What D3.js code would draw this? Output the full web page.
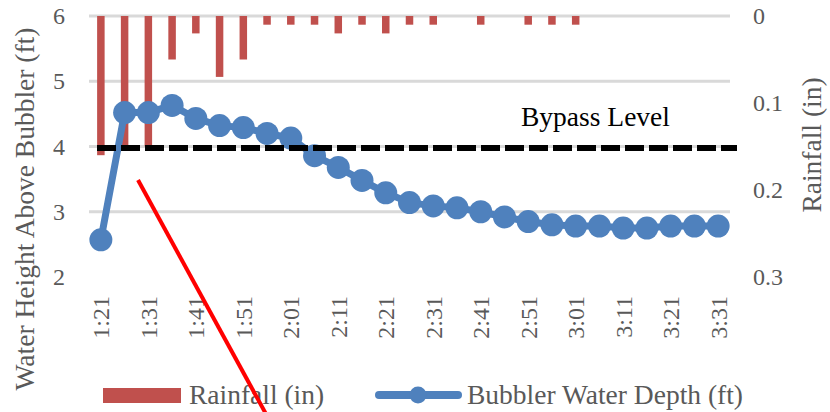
<!DOCTYPE html>
<html>
<head>
<meta charset="utf-8">
<script src="https://cdn.jsdelivr.net/npm/d3@7"></script>
<style>
  html, body { margin: 0; padding: 0; background: #fff; }
  svg text { font-family: "Liberation Serif", "Times New Roman", serif; }
</style>
</head>
<body>
<svg id="chart" width="830" height="412"></svg>
<script>
const categories = ["1:21","1:26","1:31","1:36","1:41","1:46","1:51","1:56","2:01","2:06","2:11","2:16","2:21","2:26","2:31","2:36","2:41","2:46","2:51","2:56","3:01","3:06","3:11","3:16","3:21","3:26","3:31"];
const rainfall = [0.16,0.15,0.15,0.05,0.02,0.07,0.05,0.01,0.01,0.01,0.02,0.01,0.02,0.01,0.01,0,0.01,0,0.01,0.01,0.01,0,0,0,0,0,0];
const depth = [2.57,4.52,4.52,4.63,4.43,4.32,4.29,4.20,4.13,3.86,3.68,3.48,3.29,3.14,3.09,3.06,3.00,2.92,2.85,2.80,2.78,2.78,2.75,2.75,2.78,2.78,2.78];
const xTickLabels = ["1:21","1:31","1:41","1:51","2:01","2:11","2:21","2:31","2:41","2:51","3:01","3:11","3:21","3:31"];
const leftTicks = [2,3,4,5,6];
const gridTicks = [3,4,5,6];
const rightTicks = [0,0.1,0.2,0.3];
const bypassLevel = 4;

const RED = "#C0504D", BLUE = "#4F81BD", GREY = "#595959", GRID = "#D9D9D9";
const svg = d3.select("#chart");
const x = d3.scaleBand().domain(categories).range([89, 730]);
const yL = d3.scaleLinear().domain([2, 6]).range([277, 16]);
const yR = d3.scaleLinear().domain([0, 0.3]).range([16, 277]);
const cx = d => x(d) + x.bandwidth() / 2;

// gridlines
svg.append("g").selectAll("line").data(gridTicks).join("line")
  .attr("x1", 89).attr("x2", 730)
  .attr("y1", d => yL(d)).attr("y2", d => yL(d))
  .attr("stroke", GRID).attr("stroke-width", 3);

// rainfall bars (hanging from top)
const bw = 7.5;
svg.append("g").selectAll("rect").data(categories.map((c, i) => ({c, v: rainfall[i]})).filter(d => d.v > 0)).join("rect")
  .attr("x", d => cx(d.c) - bw / 2).attr("width", bw)
  .attr("y", yR(0)).attr("height", d => yR(d.v) - yR(0))
  .attr("fill", RED);

// depth line
const pts = categories.map((c, i) => ({c, v: depth[i]}));
svg.append("path").datum(pts)
  .attr("d", d3.line().x(d => cx(d.c)).y(d => yL(d.v)))
  .attr("fill", "none").attr("stroke", BLUE).attr("stroke-width", 7).attr("stroke-linejoin", "round");
svg.append("g").selectAll("circle").data(pts).join("circle")
  .attr("cx", d => cx(d.c)).attr("cy", d => yL(d.v)).attr("r", 11.5).attr("fill", BLUE);

// bypass dashed line
svg.append("line")
  .attr("x1", 97).attr("x2", 737)
  .attr("y1", yL(bypassLevel) + 1.5).attr("y2", yL(bypassLevel) + 1.5)
  .attr("stroke", "#000").attr("stroke-width", 6).attr("stroke-dasharray", "19,5");
svg.append("text").attr("x", 521).attr("y", 126)
  .attr("font-size", 27.5).attr("fill", "#000").text("Bypass Level");

// left axis
const axL = svg.append("g").attr("transform", "translate(89,0)")
  .call(d3.axisLeft(yL).tickValues(leftTicks).tickSize(0).tickPadding(24).tickFormat(d3.format("d")));
axL.select(".domain").remove();
axL.selectAll("text").attr("font-size", 24).attr("fill", GREY).attr("font-family", "Liberation Serif");

// right axis
const axR = svg.append("g").attr("transform", "translate(730,0)")
  .call(d3.axisRight(yR).tickValues(rightTicks).tickSize(0).tickPadding(23)
    .tickFormat(d => d === 0 ? "0" : d3.format(".1f")(d)));
axR.select(".domain").remove();
axR.selectAll("text").attr("font-size", 24).attr("fill", GREY).attr("font-family", "Liberation Serif");

// x tick labels
svg.append("g").selectAll("text").data(xTickLabels).join("text")
  .attr("transform", d => `translate(${cx(d)},296) rotate(-90)`)
  .attr("text-anchor", "end").attr("dy", "0.35em")
  .attr("font-size", 24).attr("fill", GREY).text(d => d);

// axis titles
svg.append("text").attr("transform", "translate(34,209) rotate(-90)")
  .attr("text-anchor", "middle").attr("font-size", 27.5).attr("fill", GREY)
  .text("Water Height Above Bubbler (ft)");
svg.append("text").attr("transform", "translate(821,145) rotate(-90)")
  .attr("text-anchor", "middle").attr("font-size", 27.5).attr("fill", GREY)
  .text("Rainfall (in)");

// legend
const lg = svg.append("g");
lg.append("rect").attr("x", 103).attr("y", 388).attr("width", 78).attr("height", 15).attr("fill", RED);
lg.append("text").attr("x", 189).attr("y", 403.5).attr("font-size", 27.5).attr("fill", GREY).text("Rainfall (in)");
lg.append("line").attr("x1", 379).attr("x2", 458).attr("y1", 395).attr("y2", 395)
  .attr("stroke", BLUE).attr("stroke-width", 8).attr("stroke-linecap", "round");
lg.append("circle").attr("cx", 418).attr("cy", 395).attr("r", 8.5).attr("fill", BLUE);
lg.append("text").attr("x", 467).attr("y", 403.5).attr("font-size", 27.5).attr("fill", GREY).text("Bubbler Water Depth (ft)");

// red annotation stroke
svg.append("line").attr("x1", 138).attr("y1", 180).attr("x2", 266).attr("y2", 414)
  .attr("stroke", "#FF0000").attr("stroke-width", 4);
</script>
</body>
</html>
